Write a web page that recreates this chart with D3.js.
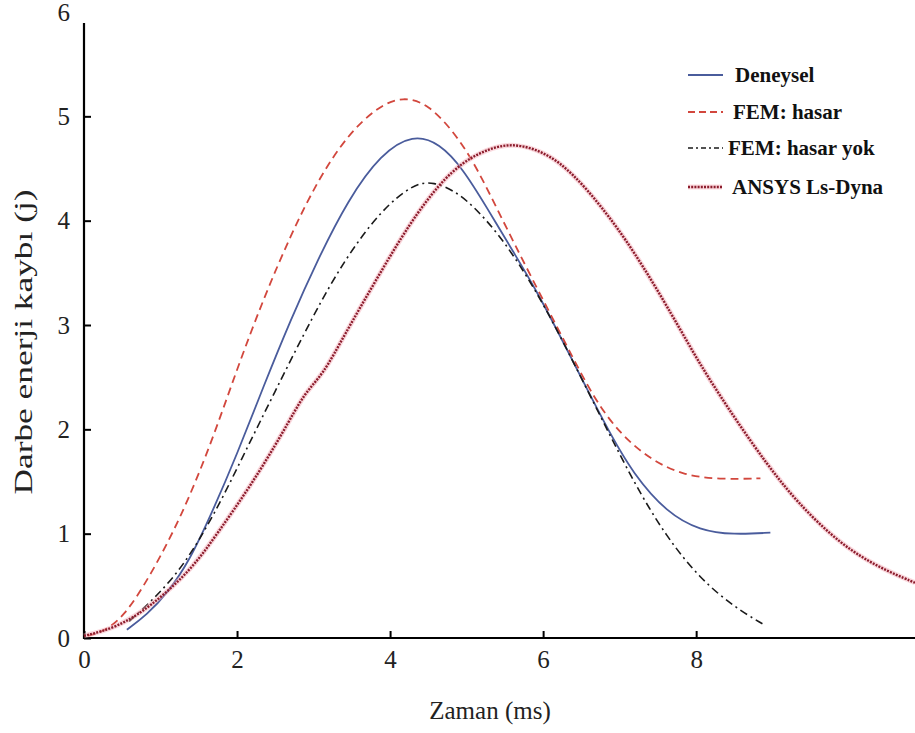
<!DOCTYPE html>
<html><head><meta charset="utf-8">
<script src="https://cdn.jsdelivr.net/npm/d3@7/dist/d3.min.js"></script>
<style>body{margin:0;background:#fff}svg{display:block}</style>
</head><body><svg id="c" width="915" height="733"></svg>
<script>
const xTicks = [0, 2, 4, 6, 8];
const yTicks = [0, 1, 2, 3, 4, 5, 6];
const xTitle = "Zaman (ms)";
const yTitle = "Darbe enerji kaybı (j)";
const seriesNames = ["Deneysel", "FEM: hasar", "FEM: hasar yok", "ANSYS Ls-Dyna"];

const deneysel = [[0.56,0.08],[0.82,0.22],[1.1,0.44],[1.37,0.73],[1.66,1.18],[2.0,1.76],[2.35,2.42],[2.7,3.05],[3.05,3.62],[3.45,4.2],[3.88,4.64],[4.3,4.83],[4.65,4.74],[4.95,4.5],[5.27,4.12],[5.61,3.7],[5.9,3.35],[6.31,2.77],[6.84,2.0],[7.18,1.57],[7.62,1.2],[8.05,1.03],[8.49,0.99],[8.97,1.01]];
const femHasar = [[0.05,0.02],[0.25,0.06],[0.52,0.2],[0.87,0.6],[1.27,1.16],[1.66,1.86],[2.0,2.58],[2.35,3.26],[2.7,3.86],[3.05,4.38],[3.44,4.82],[3.85,5.1],[4.17,5.19],[4.5,5.12],[4.87,4.82],[5.14,4.5],[5.44,4.05],[5.83,3.48],[6.31,2.8],[6.66,2.3],[7.0,1.96],[7.4,1.71],[7.83,1.56],[8.3,1.52],[8.84,1.53]];
const femHasarYok = [[0.59,0.16],[0.95,0.4],[1.31,0.7],[1.7,1.18],[2.05,1.7],[2.48,2.34],[3.0,3.1],[3.4,3.62],[3.88,4.1],[4.3,4.35],[4.56,4.38],[4.92,4.26],[5.27,4.0],[5.57,3.72],[6.0,3.22],[6.57,2.39],[7.18,1.49],[7.62,0.96],[8.05,0.57],[8.49,0.3],[8.88,0.13]];
const ansys = [[0.0,0.02],[0.43,0.1],[0.87,0.3],[1.4,0.65],[1.74,1.0],[2.18,1.46],[2.61,1.98],[2.88,2.35],[3.12,2.52],[3.4,2.9],[3.83,3.45],[4.26,3.98],[4.65,4.36],[4.95,4.56],[5.25,4.68],[5.61,4.75],[6.05,4.65],[6.39,4.45],[6.75,4.15],[7.18,3.72],[7.7,3.08],[8.05,2.62],[8.49,2.12],[8.93,1.66],[9.32,1.3],[9.88,0.9],[10.4,0.67],[10.86,0.53]];

const svg = d3.select("#c");
const x = d3.scaleLinear().domain([0, 10.86]).range([84, 915]);
const y = d3.scaleLinear().domain([0, 6]).range([638, 12]);
const serif = "'Liberation Serif','Times New Roman',serif";

const gx = svg.append("g").attr("transform", `translate(0,${y(0)})`)
  .call(d3.axisBottom(x).tickValues(xTicks).tickSize(-7).tickSizeOuter(0).tickPadding(12).tickFormat(d3.format("d")));
gx.select(".domain").remove();
gx.selectAll(".tick line").attr("stroke", "#000").attr("stroke-width", 2);
gx.selectAll(".tick text").attr("font-family", serif).attr("font-size", 25).attr("fill", "#222").attr("dy", "0.72em");

const gy = svg.append("g").attr("transform", `translate(${x(0)},0)`)
  .call(d3.axisLeft(y).tickValues(yTicks).tickSize(-7).tickSizeOuter(0).tickPadding(14).tickFormat(d3.format("d")));
gy.select(".domain").remove();
gy.selectAll(".tick line").attr("stroke", "#000").attr("stroke-width", 2).filter(d => d === 6).remove();
gy.selectAll(".tick text").attr("font-family", serif).attr("font-size", 25).attr("fill", "#222");

svg.append("line").attr("x1", x(0)).attr("x2", x(0)).attr("y1", y(0) + 1).attr("y2", 23)
  .attr("stroke", "#000").attr("stroke-width", 2.2);
svg.append("line").attr("x1", x(0) - 1).attr("x2", 915).attr("y1", y(0)).attr("y2", y(0))
  .attr("stroke", "#000").attr("stroke-width", 2.2);

svg.append("text").attr("x", 490).attr("y", 719).attr("text-anchor", "middle")
  .attr("font-family", serif).attr("font-size", 25).attr("fill", "#222").text(xTitle);
svg.append("text").attr("transform", "translate(32,342) rotate(-90)").attr("text-anchor", "middle")
  .attr("font-family", serif).attr("font-size", 25).attr("fill", "#222")
  .attr("textLength", 305).attr("lengthAdjust", "spacingAndGlyphs").text(yTitle);

const line = d3.line().x(d => x(d[0])).y(d => y(d[1])).curve(d3.curveBasis);
const styles = [
  {data: deneysel, stroke: "#4a5c9c", w: 1.8, dash: null},
  {data: femHasar, stroke: "#d2473d", w: 1.8, dash: "8,5"},
  {data: femHasarYok, stroke: "#1a1a1a", w: 1.6, dash: "8,4,2,4"},
  {data: ansys, stroke: "#8b1c2c", w: 2.4, dash: "2,1.2", glow: true}
];
styles.forEach(s => {
  if (s.glow) svg.append("path").attr("d", line(s.data)).attr("fill", "none")
    .attr("stroke", "#f3a9b3").attr("stroke-width", 5).attr("stroke-opacity", 0.45);
  svg.append("path").attr("d", line(s.data)).attr("fill", "none")
    .attr("stroke", s.stroke).attr("stroke-width", s.w).attr("stroke-dasharray", s.dash);
});

const legY = [75, 112, 148, 187];
const legTX = [735, 733, 728, 732];
styles.forEach((s, i) => {
  if (s.glow) svg.append("line").attr("x1", 688).attr("x2", 722).attr("y1", legY[i]).attr("y2", legY[i])
    .attr("stroke", "#f3a9b3").attr("stroke-width", 5).attr("stroke-opacity", 0.45);
  svg.append("line").attr("x1", 688).attr("x2", 723).attr("y1", legY[i]).attr("y2", legY[i])
    .attr("stroke", s.stroke).attr("stroke-width", s.w).attr("stroke-dasharray", i === 1 ? "7,4" : (i === 2 ? "5,3,2,3" : s.dash));
  svg.append("text").attr("x", legTX[i]).attr("y", legY[i] + 7).attr("font-family", serif)
    .attr("font-weight", "bold").attr("font-size", 21).attr("fill", "#111").text(seriesNames[i]);
});
</script></body></html>
